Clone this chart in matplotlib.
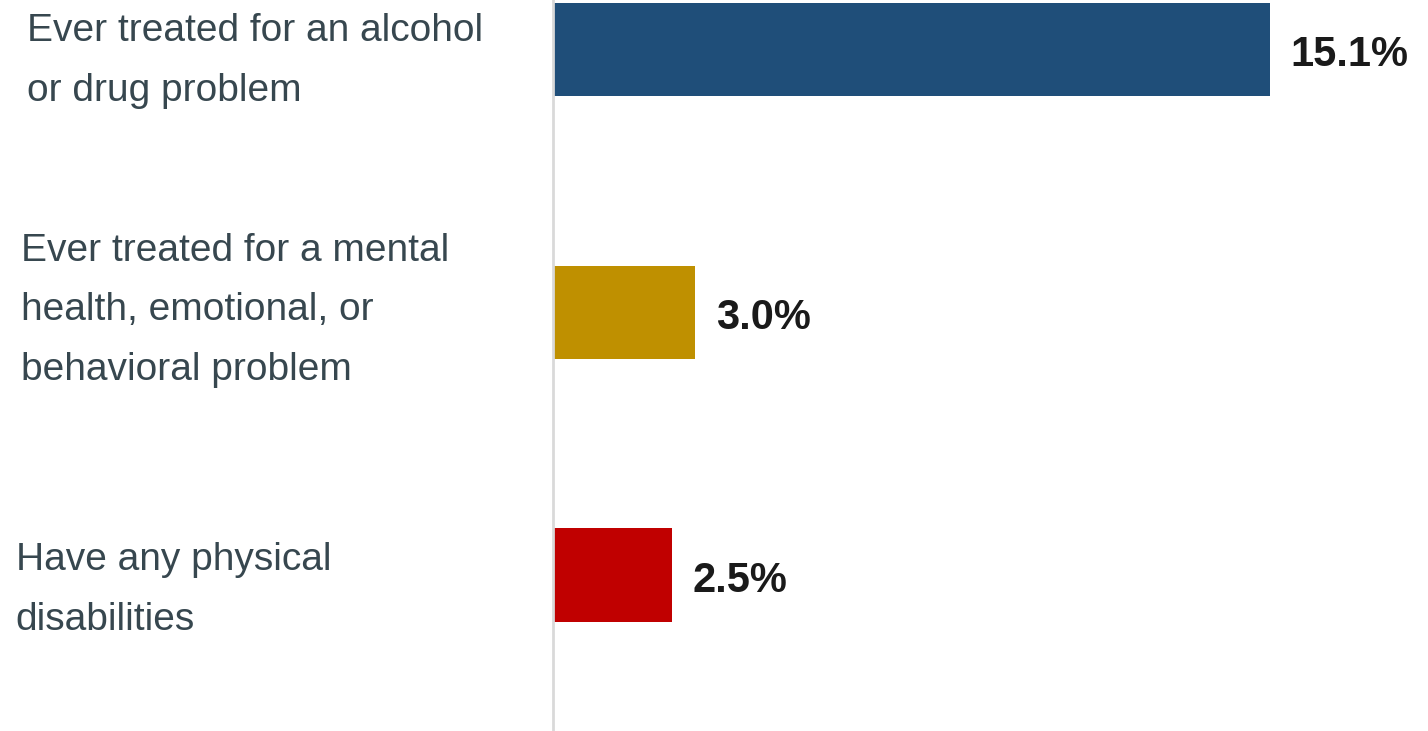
import matplotlib.pyplot as plt

# data
categories = [
    "Ever treated for an alcohol\nor drug problem",
    "Ever treated for a mental\nhealth, emotional, or\nbehavioral problem",
    "Have any physical\ndisabilities",
]
values = [15.1, 3.0, 2.5]
colors = ["#1F4E79", "#BF9000", "#C00000"]
label_x = [0.019, 0.015, 0.011]  # figure-fraction left edge of each category label
label_dy = [-11, 2, -15]         # pixel nudge of each label against its bar

plt.rcParams['font.family'] = ['Liberation Sans', 'DejaVu Sans']

fig = plt.figure(figsize=(14.28, 7.31), dpi=100)
ax = fig.add_axes([553 / 1428, 0, 1 - 553 / 1428, 1])

ypos = list(range(len(values)))
ax.barh(ypos, values, height=0.355, color=colors, left=0)

for y, v in zip(ypos, values):
    ax.annotate(f"{v:.1f}%", (v, y), xytext=(15, -4), textcoords='offset points',
                va='center', ha='left', fontsize=30, fontweight='bold',
                color='#1a1a1a')

ax.set_xlim(0, 18.43)
ax.set_ylim(2.594, -0.19)
ax.set_xticks([])
ax.set_yticks([])
for s in ['top', 'right', 'bottom']:
    ax.spines[s].set_visible(False)
ax.spines['left'].set_color('#d9d9d9')
ax.spines['left'].set_linewidth(2)

# category labels placed in figure space, centred on each bar
for y, cat, lx, dy in zip(ypos, categories, label_x, label_dy):
    _, fy = fig.transFigure.inverted().transform(ax.transData.transform((0, y)))
    fig.text(lx, fy + dy / 731, cat, ha='left', va='center', fontsize=28,
             color='#37474f', linespacing=1.84)

fig.savefig("out.png", dpi=100)
